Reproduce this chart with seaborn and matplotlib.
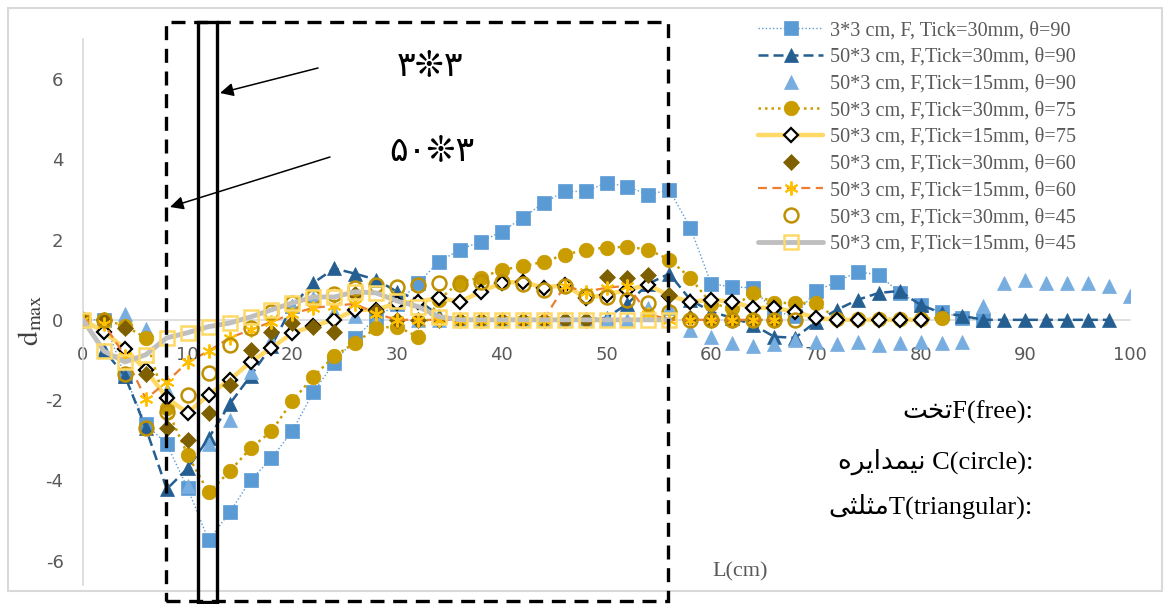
import numpy as np
import pandas as pd
import matplotlib
matplotlib.use("Agg")
import matplotlib.pyplot as plt
import seaborn as sns
from matplotlib.patches import Rectangle

# ---------------- data ----------------
L_CM = list(range(0, 101, 2))

labels = [
    "3*3 cm, F, Tick=30mm, θ=90",
    "50*3 cm, F,Tick=30mm, θ=90",
    "50*3 cm, F,Tick=15mm, θ=90",
    "50*3 cm, F,Tick=30mm, θ=75",
    "50*3 cm, F,Tick=15mm, θ=75",
    "50*3 cm, F,Tick=30mm, θ=60",
    "50*3 cm, F,Tick=15mm, θ=60",
    "50*3 cm, F,Tick=30mm, θ=45",
    "50*3 cm, F,Tick=15mm, θ=45",
]

d_3x3_t30_90 = [0, 0, -1.4, -2.6, -3.1, -4.2, -5.5, -4.8, -4.0, -3.45,
                -2.77, -1.8, -1.07, -0.45, 0.05, 0.4, 0.92, 1.45, 1.75, 1.95,
                2.2, 2.54, 2.92, 3.2, 3.2, 3.42, 3.32, 3.12, 3.24, 2.3,
                0.9, 0.82, 0.8, 0.2, 0.1, 0.72, 0.95, 1.2, 1.12, 0.68,
                0.37, 0.2, 0.05, 0.0]
d_50x3_t30_90 = [0, -0.75, -1.4, -2.7, -4.22, -3.7, -2.95, -2.1, -1.4, -0.65,
                 0.35, 0.92, 1.28, 1.15, 1.0, 0.7, 0.5, 0.1, 0, 0,
                 0, 0, 0, 0, 0, 0.05, 0.4, 0.9, 1.15, 0.5,
                 0.2, 0.05, -0.12, -0.42, -0.45, -0.05, 0.25, 0.5, 0.67, 0.72,
                 0.37, 0.17, 0.1, 0, 0, 0, 0, 0, 0, 0]
d_50x3_t15_90 = [0, 0, 0.15, -0.22, -1.75, -4.15, -3.1, -2.5, -1.3, -0.5,
                 0.35, 0.55, 0.2, 0.1, 0.0, 0.0,
                 0, 0, 0, 0, 0, 0, 0, 0, 0, 0, 0,
                 0.3, 0.3, -0.25, -0.42, -0.58, -0.65, -0.6, -0.5, -0.55, -0.6,
                 -0.55, -0.62, -0.58, -0.55, -0.58, -0.55, 0.35, 0.92, 1.0, 0.93,
                 0.93, 0.92, 0.85, 0.6]
d_50x3_t30_75 = [0, 0, -0.15, -0.45, -2.2, -3.37, -4.3, -3.78, -3.2, -2.78,
                 -2.02, -1.42, -0.9, -0.58, -0.2, -0.17, -0.42, 0.5, 0.95, 1.05,
                 1.25, 1.33, 1.45, 1.62, 1.75, 1.8, 1.82, 1.75, 1.5, 1.05,
                 0.4, 0.3, 0.67, 0.42, 0.42, 0.42, 0.02, 0.02, 0.02, 0.02,
                 0.02, 0.05]
d_50x3_t15_75 = [0, -0.3, -0.72, -1.25, -1.95, -2.32, -1.87, -1.5, -1.05, -0.7,
                 -0.33, -0.15, 0.0, 0.25, 0.25, 0.42, 0.45, 0.55, 0.45, 0.7,
                 0.92, 0.95, 0.8, 0.87, 0.55, 0.62, 0.75, 0.87, 0.6, 0.45,
                 0.5, 0.45, 0.3, 0.3, 0.2, 0.05, 0, 0, 0, 0,
                 0]
d_50x3_t30_60 = [0, 0, -0.2, -1.35, -2.7, -3.0, -2.32, -1.62, -0.75, -0.3,
                 -0.08, -0.17, -0.3, 0.65, 0.22, 0.0, 0, 0, 0, 0,
                 0, 0, 0, 0, 0, 1.07, 1.05, 1.12, 0.62, 0.05,
                 0, 0, 0, 0]
d_50x3_t15_60 = [0, -0.1, -0.9, -1.97, -1.55, -1.05, -0.78, -0.45, -0.25, -0.05,
                 0.15, 0.3, 0.35, 0.4, 0.15, 0, 0, 0, 0, 0,
                 0, 0, 0, 0.85, 0.7, 0.8, 0.85, 0.15, 0, 0,
                 0, 0, 0, 0]
d_50x3_t30_45 = [0, 0, -1.35, -2.7, -2.3, -1.87, -1.32, -0.62, -0.2, 0.2,
                 0.42, 0.57, 0.65, 0.8, 0.87, 0.82, 0.87, 0.92, 0.9, 0.95,
                 0.95, 0.9, 0.75, 0.85, 0.6, 0.57, 0.5, 0.42, 0.2, 0,
                 0, 0, 0, 0, 0]
d_50x3_t15_45 = [0, -0.78, -1.05, -0.87, -0.45, -0.32, -0.17, -0.08, 0.07, 0.25,
                 0.42, 0.57, 0.57, 0.7, 0.67, 0.47, 0.33, 0.08, 0, 0,
                 0, 0, 0, 0, 0, 0, 0, 0, 0]

values = [d_3x3_t30_90, d_50x3_t30_90, d_50x3_t15_90, d_50x3_t30_75,
          d_50x3_t15_75, d_50x3_t30_60, d_50x3_t15_60, d_50x3_t30_45,
          d_50x3_t15_45]

x_ticks = [0, 10, 20, 30, 40, 50, 60, 70, 80, 90, 100]
y_ticks = [-6, -4, -2, 0, 2, 4, 6]

# ---------------- styles ----------------
styles = [
    dict(color="#5B9BD5", linestyle=(0, (1, 1.6)), linewidth=1.0, marker="s",
         markersize=10, markerfacecolor="#5B9BD5", markeredgecolor="#5B9BD5", markeredgewidth=0.5),
    dict(color="#255E91", linestyle=(0, (4, 2)), linewidth=1.8, marker="^",
         markersize=10.5, markerfacecolor="#255E91", markeredgecolor="#255E91", markeredgewidth=0.5),
    dict(color="#78ADE0", linestyle="none", linewidth=0, marker="^",
         markersize=10.5, markerfacecolor="#78ADE0", markeredgecolor="#78ADE0", markeredgewidth=0.5),
    dict(color="#C99C00", linestyle=(0, (1, 1.6)), linewidth=1.8, marker="o",
         markersize=10.5, markerfacecolor="#C99C00", markeredgecolor="#C99C00", markeredgewidth=0.5),
    dict(color="#FFD966", linestyle="-", linewidth=3.2, marker="D",
         markersize=7, markerfacecolor="white", markeredgecolor="black", markeredgewidth=1.6),
    dict(color="#7F6000", linestyle="none", linewidth=0, marker="D",
         markersize=8.5, markerfacecolor="#7F6000", markeredgecolor="#7F6000", markeredgewidth=0.5),
    dict(color="#ED7D31", linestyle=(0, (4, 2.5)), linewidth=1.6, marker=(6, 2, 0),
         markersize=10, markerfacecolor="#FFC000", markeredgecolor="#FFC000", markeredgewidth=1.4),
    dict(color="#BF9000", linestyle="none", linewidth=0, marker="o",
         markersize=10, markerfacecolor="none", markeredgecolor="#BF9000", markeredgewidth=1.8),
    dict(color="#BFBFBF", linestyle="-", linewidth=3.5, marker="s",
         markersize=10, markerfacecolor="none", markeredgecolor="#FFD966", markeredgewidth=1.8),
]

sns.set_theme(style="white")
plt.rcParams["font.family"] = ["DejaVu Sans"]
plt.rcParams["axes.unicode_minus"] = False
plt.rcParams["mathtext.fontset"] = "stix"

W, H = 1173, 604
fig = plt.figure(figsize=(W / 100, H / 100), dpi=100)
ax = fig.add_axes([83 / W, 1 - 585 / H, (1130 - 83) / W, (585 - 39) / H])
ax.set_facecolor("none")

for i, (lab, vals, st) in enumerate(zip(labels, values, styles)):
    df = pd.DataFrame({"L": L_CM[:len(vals)], "d": vals})
    sns.lineplot(data=df, x="L", y="d", ax=ax, label=lab, sort=False,
                 estimator=None, zorder=3 + i, **st)

ax.set_xlim(0, 100)
ax.set_ylim(-6.61, 7.0)
ax.set_xticks(x_ticks)
ax.set_yticks(y_ticks)
ax.set_xticklabels([str(v) for v in x_ticks])
ax.set_yticklabels([str(v) for v in y_ticks])
ax.set_xlabel("")
ax.set_ylabel("")
for s in ["top", "right"]:
    ax.spines[s].set_visible(False)
ax.spines["bottom"].set_position(("data", 0))
ax.spines["bottom"].set_color("#D9D9D9")
ax.spines["bottom"].set_linewidth(1.2)
ax.spines["bottom"].set_zorder(1)
ax.spines["left"].set_color("#D9D9D9")
ax.spines["left"].set_linewidth(1.2)
ax.tick_params(axis="x", length=0, pad=19, labelsize=13, labelcolor="#595959")
ax.tick_params(axis="y", length=0, pad=14, labelsize=13, labelcolor="#595959")
ax.grid(False)

# legend
handles, labs = ax.get_legend_handles_labels()
leg = ax.legend(handles, labs, loc="upper left", bbox_to_anchor=(754 / W, 1 - 17 / H),
                bbox_transform=fig.transFigure, frameon=False,
                prop={"family": ["Liberation Serif", "DejaVu Serif"], "size": 14.6},
                handlelength=3.2, handletextpad=0.35, labelspacing=0.37,
                borderpad=0.2, borderaxespad=0)
for t in leg.get_texts():
    t.set_color("#595959")

# axis titles
fig.text(30 / W, 1 - 320 / H, r"$\mathrm{d_{max}}$", rotation=90, ha="center", va="center",
         fontsize=21, color="#404040")
fig.text(740 / W, 1 - 572 / H, "L(cm)", ha="center", va="center", fontsize=16,
         color="#595959", family=["Liberation Serif", "DejaVu Serif"])

# outer chart border
fig.add_artist(Rectangle((8 / W, 13 / H), (1162 - 8) / W, (596 - 13) / H, transform=fig.transFigure,
                         fill=False, edgecolor="#D9D9D9", linewidth=1.5, zorder=0))

# annotation boxes
fig.add_artist(Rectangle((166 / W, 1 - 601 / H), (668 - 166) / W, (601 - 22) / H,
                         transform=fig.transFigure, fill=False, edgecolor="black",
                         linewidth=2.4, linestyle=(0, (4.2, 2.6)), zorder=20))
fig.add_artist(Rectangle((198 / W, 1 - 602 / H), (217 - 198) / W, (602 - 22) / H,
                         transform=fig.transFigure, fill=False, edgecolor="black",
                         linewidth=2.4, zorder=20))

# arrows
ax.annotate("", xy=(220, H - 93), xytext=(318, H - 68), xycoords="figure pixels",
            textcoords="figure pixels",
            arrowprops=dict(arrowstyle="-|>", color="black", lw=1.1, mutation_scale=20,
                            shrinkA=0, shrinkB=0), zorder=21)
ax.annotate("", xy=(170, H - 207), xytext=(330, H - 157), xycoords="figure pixels",
            textcoords="figure pixels",
            arrowprops=dict(arrowstyle="-|>", color="black", lw=1.1, mutation_scale=20,
                            shrinkA=0, shrinkB=0), zorder=21)

fig.text(430 / W, 1 - 65 / H, "\u06F3\u274A\u06F3", ha="center", va="center",
         fontsize=25, color="black", family=["DejaVu Sans"])
fig.text(432 / W, 1 - 150 / H, "\u06F5\u06F0\u274A\u06F3", ha="center", va="center",
         fontsize=25, color="black", family=["DejaVu Sans"])

# bottom-right notes (visual order, presentation forms)
t1 = "\uFE96\uFEA8\uFE97" + "F(free):"
t2 = "\uFEE9\uFEAE\uFEF3\uFE8D\uFEAA\uFEE4\uFEF4\uFEE7" + " C(circle):"
t3 = "\uFEF0\uFE9C\uFEE0\uFE9C\uFEE3" + "T(triangular):"
for txt, yy in [(t1, 412), (t2, 462), (t3, 506)]:
    fig.text(1033 / W, 1 - yy / H, txt, ha="right", va="center", fontsize=19,
             color="black", family=["Liberation Serif", "DejaVu Sans"])

fig.savefig("out.png", dpi=100, facecolor="white")
